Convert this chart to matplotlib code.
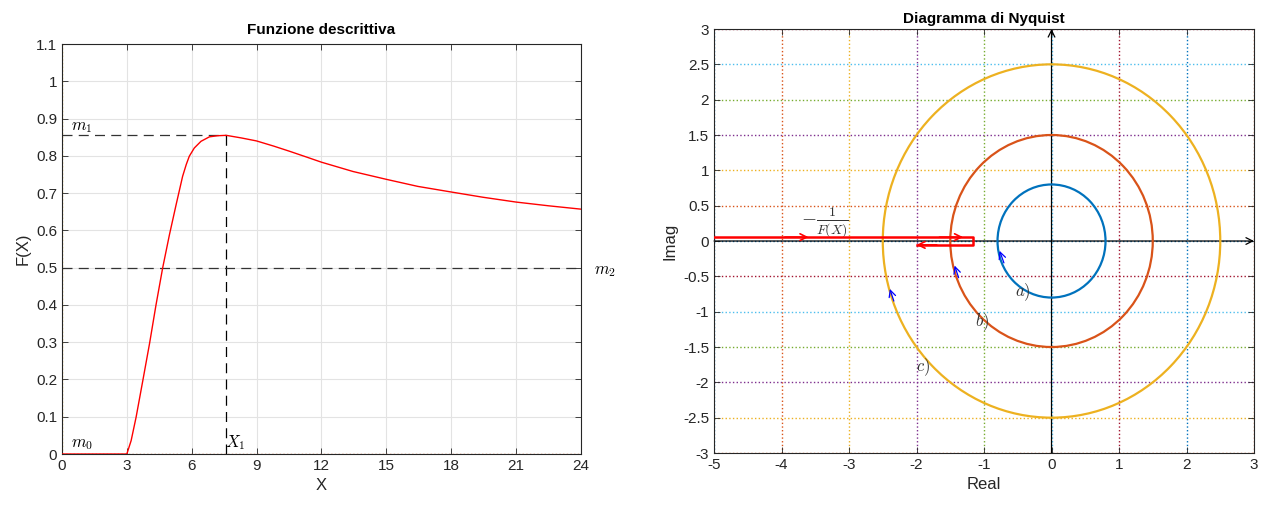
import numpy as np
import matplotlib.pyplot as plt
from matplotlib.patches import Circle

plt.rcParams['font.family'] = ['Liberation Sans', 'DejaVu Sans']
plt.rcParams['mathtext.fontset'] = 'cm'

# describing function F(X)
x_vals = [0, 3, 3.2, 3.43, 3.74, 4.05, 4.35, 4.66, 4.97, 5.28, 5.58, 5.75, 5.89, 6.12,
          6.43, 6.82, 7.2, 7.6, 8.3, 9.0, 9.8, 10.54, 11.3, 12.0, 13.46, 15.0, 16.46,
          18.0, 19.46, 21.0, 22.5, 24.0]
f_vals = [0, 0, 0.036, 0.099, 0.197, 0.296, 0.40, 0.50, 0.588, 0.669, 0.745, 0.777, 0.799,
          0.821, 0.839, 0.851, 0.854, 0.855, 0.848, 0.840, 0.826, 0.812, 0.797, 0.783,
          0.758, 0.737, 0.718, 0.703, 0.689, 0.676, 0.666, 0.657]
m1 = 0.855
m2 = 0.5
X1 = 7.6

# Nyquist plots
radii = [0.8, 1.5, 2.5]
circle_colors = ['#0072BD', '#D95319', '#EDB120']
circle_labels = ['$a)$', '$b)$', '$c)$']
label_x = [-0.42, -1.03, -1.9]
label_y = [-0.72, -1.15, -1.78]
arrow_x = [-0.72, -1.39, -2.35]
arrow_y = [-0.27, -0.48, -0.81]

grid_cycle = ['#0072BD', '#D95319', '#EDB120', '#7E2F8E', '#77AC30', '#4DBEEE', '#A2142F']
x_ticks_r = np.arange(-5, 3.5, 1)
y_ticks_r = np.arange(-3, 3.25, 0.5)

fig = plt.figure(figsize=(12.64, 5.09), dpi=100)
ax1 = fig.add_axes([0.049, 0.108, 0.4106, 0.8055])
ax2 = fig.add_axes([0.5649, 0.110, 0.4272, 0.833])

# ---- left panel
ax1.plot(x_vals, f_vals, color='red', lw=1.0, zorder=3)
ax1.axvline(0, color='#EDB120', ls=':', lw=1.0, zorder=2)
ax1.axhline(0, color='#D95319', ls=':', lw=1.0, zorder=2)
ax1.plot([0, X1], [m1, m1], color='#333333', ls=(0, (8, 5)), lw=0.9)
ax1.plot([X1, X1], [0, m1], color='black', ls=(0, (8, 5)), lw=0.9)
ax1.plot([0, 24], [m2, m2], color='#333333', ls=(0, (8, 5)), lw=0.9)
ax1.text(0.4, 0.877, '$m_1$', fontsize=12, va='center')
ax1.text(0.4, 0.025, '$m_0$', fontsize=12, va='center')
ax1.text(24.6, 0.49, '$m_2$', fontsize=12, va='center')
ax1.text(7.55, 0.03, '$X_1$', fontsize=12, va='center')
ax1.set_xlim(0, 24)
ax1.set_ylim(0, 1.1)
ax1.set_xticks(np.arange(0, 25, 3))
ax1.set_yticks(np.arange(0, 1.11, 0.1))
ax1.set_yticklabels(['0', '0.1', '0.2', '0.3', '0.4', '0.5', '0.6', '0.7', '0.8', '0.9', '1', '1.1'])
ax1.grid(True, color='#E3E3E3', lw=0.8)
ax1.set_axisbelow(True)
ax1.set_title('Funzione descrittiva', fontsize=11, fontweight='bold', pad=7)
ax1.set_xlabel('X', fontsize=12, color='#262626')
ax1.set_ylabel('F(X)', fontsize=12, color='#262626')

# ---- right panel
for i, xv in enumerate(x_ticks_r):
    ax2.plot([xv, xv], [-3, 3], color=grid_cycle[i % 7], ls=':', lw=1.0, zorder=1)
for i, yv in enumerate(y_ticks_r):
    ax2.plot([-5, 3], [yv, yv], color=grid_cycle[(i + 1) % 7], ls=':', lw=1.0, zorder=1)

for r, c in zip(radii, circle_colors):
    ax2.add_patch(Circle((0, 0), r, fill=False, edgecolor=c, lw=1.6, zorder=3))
for lx, ly, lab in zip(label_x, label_y, circle_labels):
    ax2.text(lx, ly, lab, fontsize=12, ha='center', va='center', color='#333333')
for axx, ayy in zip(arrow_x, arrow_y):
    th = np.arctan2(ayy, axx)
    dx, dy = np.sin(th) * 0.14, -np.cos(th) * 0.14
    ax2.annotate('', xy=(axx + dx, ayy + dy), xytext=(axx - 0.3 * dx, ayy - 0.3 * dy),
                 arrowprops=dict(arrowstyle='->', color='blue', lw=0.9,
                                 mutation_scale=12, shrinkA=0, shrinkB=0), zorder=4)

# coordinate axes with arrows
ax2.annotate('', xy=(3, 0), xytext=(-5, 0), annotation_clip=False,
             arrowprops=dict(arrowstyle='->', color='black', lw=0.9,
                             mutation_scale=12, shrinkA=0, shrinkB=0), zorder=2)
ax2.annotate('', xy=(0, 3), xytext=(0, -3), annotation_clip=False,
             arrowprops=dict(arrowstyle='->', color='black', lw=0.9,
                             mutation_scale=12, shrinkA=0, shrinkB=0), zorder=2)

# -1/F(X) locus
up = 0.055
ax2.plot([-5, -1 / m1, -1 / m1, -1 / m2], [up, up, -up, -up], color='red', lw=1.8, zorder=5)
for xa in [-3.65, -1.36]:
    ax2.annotate('', xy=(xa + 0.05, up), xytext=(xa - 0.3, up),
                 arrowprops=dict(arrowstyle='->', color='red', lw=1.2,
                                 mutation_scale=12, shrinkA=0, shrinkB=0), zorder=5)
ax2.annotate('', xy=(-1 / m2, -up), xytext=(-1 / m2 + 0.3, -up),
             arrowprops=dict(arrowstyle='->', color='red', lw=1.2,
                             mutation_scale=12, shrinkA=0, shrinkB=0), zorder=5)
ax2.text(-3.36, 0.26, r'$-\frac{1}{F(X)}$', fontsize=14, ha='center', va='center', color='#333333')

ax2.set_xlim(-5, 3)
ax2.set_ylim(-3, 3)
ax2.set_xticks(x_ticks_r)
ax2.set_xticklabels([str(int(v)) for v in x_ticks_r])
ax2.set_yticks(y_ticks_r)
ax2.set_yticklabels(['-3', '-2.5', '-2', '-1.5', '-1', '-0.5', '0', '0.5', '1', '1.5', '2', '2.5', '3'])
ax2.set_title('Diagramma di Nyquist', fontsize=11, fontweight='bold', pad=4)
ax2.set_xlabel('Real', fontsize=12, color='#262626')
ax2.set_ylabel('Imag', fontsize=12, color='#262626')

for ax in (ax1, ax2):
    ax.tick_params(direction='in', top=True, right=True, labelsize=11, colors='#262626',
                   length=4, width=0.6)
    for s in ax.spines.values():
        s.set_color('#262626')
        s.set_linewidth(0.8)

fig.savefig('out.png', dpi=100)
